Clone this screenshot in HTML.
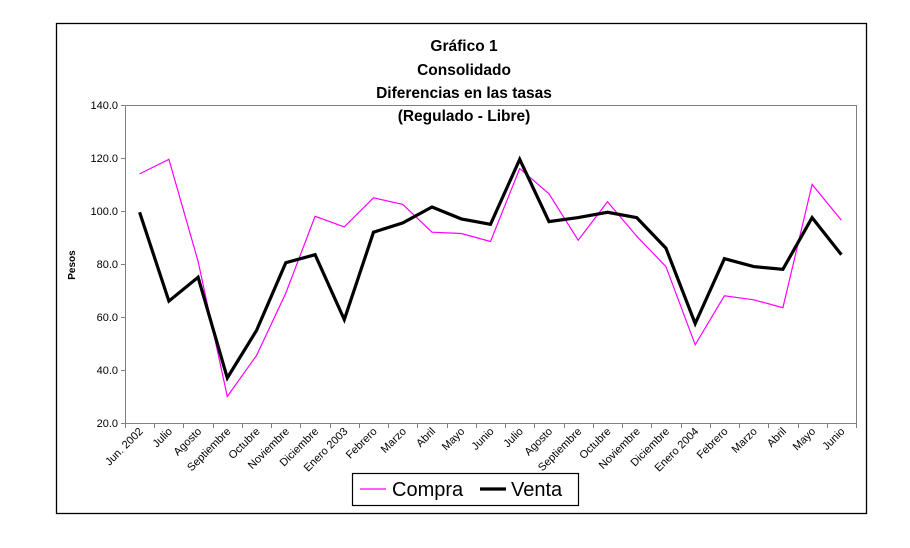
<!DOCTYPE html>
<html><head><meta charset="utf-8"><style>
html,body{margin:0;padding:0;background:#fff;}
svg{display:block;font-family:"Liberation Sans",Arial,sans-serif;}
</style></head><body>
<svg width="910" height="548" viewBox="0 0 910 548" xmlns="http://www.w3.org/2000/svg">
<rect x="56.5" y="23.5" width="810" height="490" fill="#fff" stroke="#000" stroke-width="1.3"/>
<g font-weight="bold" font-size="15.5" text-anchor="middle" fill="#000">
<text x="464" y="51">Gráfico 1</text>
<text x="464" y="75">Consolidado</text>
<text x="464" y="98">Diferencias en las tasas</text>
<text x="464" y="121">(Regulado - Libre)</text>
</g>
<text font-size="10" font-weight="bold" transform="translate(75,265) rotate(-90)" text-anchor="middle">Pesos</text>
<g stroke="#808080" stroke-width="1" fill="none">
<path d="M125.5,105.5 V423.5 H856.5 V105.5 H125.5"/>
</g>
<g font-size="11" text-anchor="end" fill="#000" id="yl"></g>
<g id="ticks" stroke="#000" stroke-width="1"></g>
<g id="xl" font-size="11" fill="#000"></g>
<polyline id="c" fill="none" stroke="#ff00ff" stroke-width="1.2"/>
<polyline id="v" fill="none" stroke="#000" stroke-width="3.2" stroke-linejoin="miter"/>
<rect x="352.5" y="473.5" width="226" height="32" fill="#fff" stroke="#000" stroke-width="1.2"/>
<line x1="360" y1="489" x2="386" y2="489" stroke="#ff00ff" stroke-width="1.2"/>
<text x="392" y="496" font-size="20">Compra</text>
<line x1="480" y1="489" x2="506" y2="489" stroke="#000" stroke-width="3.2"/>
<text x="511" y="496" font-size="20">Venta</text>
<script>
var ns="http://www.w3.org/2000/svg";
function Y(v){return 423-(v-20)*318/120;}
var yl=document.getElementById('yl'),tk=document.getElementById('ticks'),xl=document.getElementById('xl');
for(var v=20;v<=140;v+=20){var t=document.createElementNS(ns,'text');t.setAttribute('x',118);t.setAttribute('y',Y(v)+4);t.textContent=v.toFixed(1);yl.appendChild(t);
var l=document.createElementNS(ns,'line');l.setAttribute('x1',121);l.setAttribute('x2',125.5);l.setAttribute('y1',Math.round(Y(v))+0.5);l.setAttribute('y2',Math.round(Y(v))+0.5);l.setAttribute('stroke','#808080');tk.appendChild(l);}
var w=(856-125)/25;
for(var i=0;i<=25;i++){var x=Math.round(125+w*i)+0.5;var l=document.createElementNS(ns,'line');l.setAttribute('x1',x);l.setAttribute('x2',x);l.setAttribute('y1',423);l.setAttribute('y2',428);l.setAttribute('stroke','#808080');tk.appendChild(l);}
var labs=["Jun. 2002","Julio","Agosto","Septiembre","Octubre","Noviembre","Diciembre","Enero 2003","Febrero","Marzo","Abril","Mayo","Junio","Julio","Agosto","Septiembre","Octubre","Noviembre","Diciembre","Enero 2004","Febrero","Marzo","Abril","Mayo","Junio"];
for(var i=0;i<25;i++){var cx=125+w*(i+0.5);var t=document.createElementNS(ns,'text');t.setAttribute('text-anchor','end');t.setAttribute('transform','translate('+(cx+4)+',432) rotate(-45)');t.textContent=labs[i];xl.appendChild(t);}
var C=[114,119.5,81,30,45.5,69,98,94,105,102.5,92,91.5,88.5,116,106.5,89,103.5,90.5,79,49.5,68,66.5,63.5,110,96.5];
var V=[99.5,66,75,37,55,80.5,83.5,59,92,95.5,101.5,97,95,119.5,96,97.5,99.5,97.5,86,57.5,82,79,78,97.5,83.5];
function pts(a){return a.map(function(v,i){return (125+w*(i+0.5)).toFixed(1)+','+Y(v).toFixed(1);}).join(' ');}
document.getElementById('c').setAttribute('points',pts(C));
document.getElementById('v').setAttribute('points',pts(V));
</script>
</svg>
</body></html>
